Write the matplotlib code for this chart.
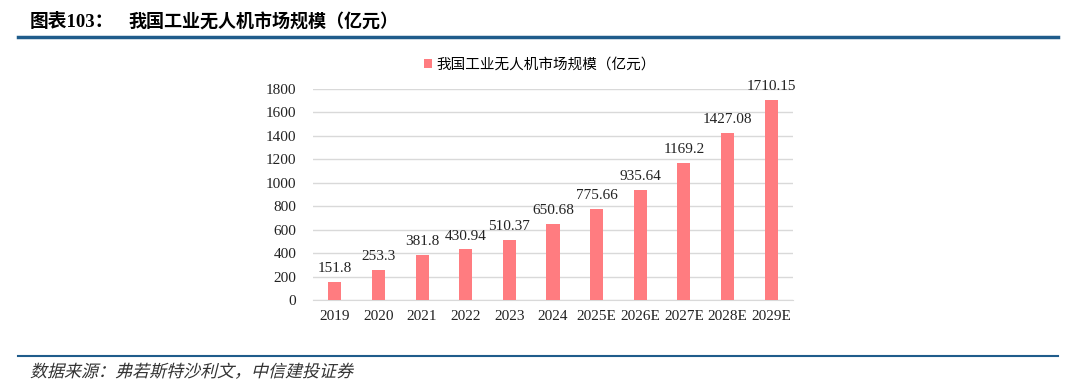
import matplotlib.pyplot as plt
import matplotlib.lines as mlines
from matplotlib.textpath import TextPath
from matplotlib.patches import PathPatch
from matplotlib.font_manager import FontProperties
from matplotlib.transforms import Affine2D, IdentityTransform

# data
years = ["2019", "2020", "2021", "2022", "2023", "2024",
         "2025E", "2026E", "2027E", "2028E", "2029E"]
market_size = [151.8, 253.3, 381.8, 430.94, 510.37, 650.68,
               775.66, 935.64, 1169.2, 1427.08, 1710.15]
value_labels = ["151.8", "253.3", "381.8", "430.94", "510.37", "650.68",
                "775.66", "935.64", "1169.2", "1427.08", "1710.15"]
y_ticks = [0, 200, 400, 600, 800, 1000, 1200, 1400, 1600, 1800]

series_name = "我国工业无人机市场规模（亿元）"
title_num = "图表103："
title_text = "我国工业无人机市场规模（亿元）"
source_text = "数据来源：弗若斯特沙利文，中信建投证券"

bar_color = "#FF7C80"
serif = ["Liberation Serif", "Noto Sans CJK SC"]
cjk = ["Noto Sans CJK SC", "DejaVu Sans"]

W, H = 1080, 391
fig = plt.figure(figsize=(W / 100, H / 100), dpi=100)

# header / footer
fig.text(30 / W, 1 - 22 / H, title_num, family=serif, fontsize=13.5,
         fontweight="bold", va="center", ha="left")
fig.text(128 / W, 1 - 22 / H, title_text, family=cjk, fontsize=13,
         fontweight="bold", va="center", ha="left")
fig.add_artist(mlines.Line2D([18 / W, 1058 / W], [1 - 37 / H] * 2,
                             color="#1F5C8B", lw=2.5, transform=fig.transFigure))
fig.add_artist(mlines.Line2D([18 / W, 1058 / W], [1 - 356 / H] * 2,
                             color="#1F5C8B", lw=1.5, transform=fig.transFigure))

# italic-looking source line (CJK font has no italic, so skew the glyph path)
src_path = TextPath((0, 0), source_text, size=17,
                    prop=FontProperties(family="Noto Sans CJK SC"))
src_tf = Affine2D().skew_deg(14, 0).translate(30, H - 377) + IdentityTransform()
fig.add_artist(PathPatch(src_path, transform=src_tf, color="#333333", lw=0))

ax = fig.add_axes([313 / W, 1 - 300 / H, 480 / W, 211 / H])
x = range(len(years))
ax.bar(x, market_size, width=0.3, color=bar_color, zorder=3, label=series_name)
for xi, v, lab in zip(x, market_size, value_labels):
    ax.annotate(lab, (xi, v), xytext=(0, 5), textcoords="offset points",
                ha="center", va="bottom", fontsize=11, family=serif,
                color="#222222", clip_on=False)

ax.set_xlim(-0.5, len(years) - 0.5)
ax.set_ylim(0, 1800)
ax.set_yticks(y_ticks)
ax.set_xticks(list(x))
ax.set_xticklabels(years)
ax.grid(axis="y", color="#D9D9D9", lw=1, zorder=0)
for s in ["top", "right", "left"]:
    ax.spines[s].set_visible(False)
ax.spines["bottom"].set_color("#D9D9D9")
ax.tick_params(length=0, labelsize=11, colors="#222222")
ax.tick_params(axis="y", pad=12)
ax.tick_params(axis="x", pad=7)
for t in ax.get_xticklabels() + ax.get_yticklabels():
    t.set_family(serif)

ax.legend(loc="center", bbox_to_anchor=((540 - 313) / 480, 1 + 24 / 211),
          frameon=False, handlelength=0.6, handleheight=0.6, handletextpad=0.3,
          prop={"family": cjk, "size": 10.5})

fig.savefig("out.png", dpi=100)
